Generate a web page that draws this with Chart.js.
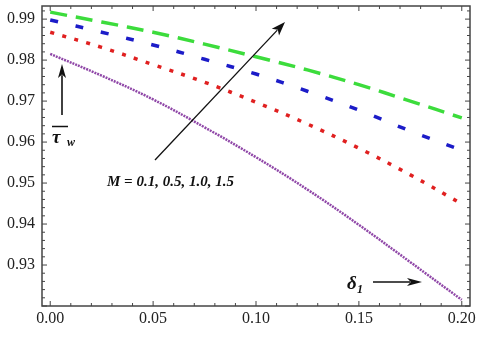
<!DOCTYPE html>
<html>
<head>
<meta charset="utf-8">
<script src="https://cdn.jsdelivr.net/npm/chart.js@4"></script>
<style>
  body { margin: 0; background: #fff; }
  #wrap { width: 480px; height: 337px; position: relative; }
</style>
</head>
<body>
<div id="wrap"><canvas id="chart"></canvas></div>
<script>
// delta_1 values along the x axis
const delta = [0, 0.025, 0.05, 0.075, 0.1, 0.125, 0.15, 0.175, 0.2];

// wall shear stress for M = 1.5, 1.0, 0.5, 0.1 (top to bottom)
const tauM15 = [0.9917, 0.9893, 0.9868, 0.9839, 0.9808, 0.9776, 0.9740, 0.9700, 0.9659];
const tauM10 = [0.9898, 0.9868, 0.9837, 0.9802, 0.9766, 0.9724, 0.9678, 0.9627, 0.9580];
const tauM05 = [0.9868, 0.9831, 0.9789, 0.9746, 0.9697, 0.9644, 0.9585, 0.9520, 0.9449];
const tauM01 = [0.9815, 0.9762, 0.9704, 0.9636, 0.9563, 0.9484, 0.9398, 0.9307, 0.9215];

const xTicks = [0, 0.05, 0.1, 0.15, 0.2];
const yTicks = [0.93, 0.94, 0.95, 0.96, 0.97, 0.98, 0.99];

const serif = '"Liberation Serif", "Times New Roman", serif';

const pts = arr => arr.map((v, i) => ({ x: delta[i], y: v }));

function arrow(ctx, x1, y1, x2, y2, head, half) {
  const a = Math.atan2(y2 - y1, x2 - x1);
  const c = Math.cos(a), s = Math.sin(a);
  ctx.beginPath();
  ctx.moveTo(x1, y1);
  ctx.lineTo(x2 - c * head * 0.8, y2 - s * head * 0.8);
  ctx.stroke();
  ctx.beginPath();
  ctx.moveTo(x2, y2);
  ctx.lineTo(x2 - c * head - s * half, y2 - s * head + c * half);
  ctx.lineTo(x2 - c * head * 0.75, y2 - s * head * 0.75);
  ctx.lineTo(x2 - c * head + s * half, y2 - s * head - c * half);
  ctx.closePath();
  ctx.fill();
}

// frame with inward ticks (Mathematica style) plus the text annotations
const framePlugin = {
  id: 'frame',
  afterDatasetsDraw(chart) {
    const { ctx, chartArea: a, scales: { x, y } } = chart;
    ctx.save();
    ctx.strokeStyle = '#444';
    ctx.lineWidth = 1.5;
    ctx.strokeRect(a.left, a.top, a.right - a.left, a.bottom - a.top);

    ctx.lineWidth = 1;
    ctx.beginPath();
    for (let i = 0; i <= 20; i++) {
      const px = x.getPixelForValue(i * 0.01);
      const len = i % 5 === 0 ? 5 : 3;
      ctx.moveTo(px, a.bottom); ctx.lineTo(px, a.bottom - len);
      ctx.moveTo(px, a.top); ctx.lineTo(px, a.top + len);
    }
    for (let i = 0; i <= 36; i++) {
      const v = 0.92 + i * 0.002;
      if (v > 0.9932) break;
      const py = y.getPixelForValue(v);
      const len = i % 5 === 0 ? 5 : 3;
      ctx.moveTo(a.left, py); ctx.lineTo(a.left + len, py);
      ctx.moveTo(a.right, py); ctx.lineTo(a.right - len, py);
    }
    ctx.stroke();

    ctx.fillStyle = '#111';
    ctx.strokeStyle = '#111';

    // M label and its arrow
    ctx.font = 'bold italic 15px ' + serif;
    ctx.textBaseline = 'alphabetic';
    ctx.fillText('M = 0.1, 0.5, 1.0, 1.5', 107, 186);
    ctx.lineWidth = 1.3;
    arrow(ctx, 155, 160, 285, 22, 14, 5);

    // tau_w label with overbar and up arrow
    ctx.lineWidth = 1.6;
    arrow(ctx, 62, 115, 62, 64, 14, 4);
    ctx.font = 'bold italic 19px ' + serif;
    ctx.fillText('\u03c4', 52, 143);
    ctx.font = 'bold italic 12px ' + serif;
    ctx.fillText('w', 67, 146);
    ctx.lineWidth = 1.5;
    ctx.beginPath();
    ctx.moveTo(52, 126.5); ctx.lineTo(68, 126.5);
    ctx.stroke();

    // delta_1 label with right arrow
    ctx.font = 'bold italic 19px ' + serif;
    ctx.fillText('\u03b4', 347, 289);
    ctx.font = 'bold italic 12px ' + serif;
    ctx.fillText('1', 357, 293);
    ctx.lineWidth = 1.6;
    arrow(ctx, 373, 282, 422, 282, 15, 4);
    ctx.restore();
  }
};

const line = (data, color, width, dash) => ({
  data: pts(data),
  borderColor: color,
  borderWidth: width,
  borderDash: dash,
  borderCapStyle: 'butt',
  pointRadius: 0,
  fill: false,
  tension: 0.4
});

const noPad = s => { s.paddingTop = 0; s.paddingBottom = 0; s.paddingLeft = 0; s.paddingRight = 0; };

new Chart(document.getElementById('chart'), {
  type: 'line',
  data: {
    datasets: [
      line(tauM15, '#3cdc3c', 3.5, [17, 9]),
      line(tauM10, '#1c1cc8', 3.5, [8, 18]),
      line(tauM05, '#e02020', 3.5, [4, 8.5]),
      line(tauM01, '#9048a8', 2.5, [2, 1])
    ]
  },
  options: {
    responsive: true,
    maintainAspectRatio: false,
    animation: false,
    layout: { padding: { top: 6, right: 10, left: 0, bottom: 0 } },
    plugins: { legend: { display: false }, tooltip: { enabled: false } },
    scales: {
      x: {
        type: 'linear',
        min: -0.004,
        max: 0.204,
        grid: { display: false, drawTicks: false },
        border: { display: false },
        afterBuildTicks: s => { s.ticks = xTicks.map(v => ({ value: v })); },
        afterFit: s => { s.height = 31; noPad(s); },
        ticks: {
          padding: 3,
          color: '#222',
          font: { family: serif, size: 16 },
          maxRotation: 0,
          callback: v => v.toFixed(2)
        }
      },
      y: {
        type: 'linear',
        min: 0.92,
        max: 0.9932,
        grid: { display: false, drawTicks: false },
        border: { display: false },
        afterBuildTicks: s => { s.ticks = yTicks.map(v => ({ value: v })); },
        afterFit: s => { s.width = 42; noPad(s); },
        ticks: {
          padding: 7,
          color: '#222',
          font: { family: serif, size: 16 },
          callback: v => v.toFixed(2)
        }
      }
    }
  },
  plugins: [framePlugin]
});
</script>
</body>
</html>
